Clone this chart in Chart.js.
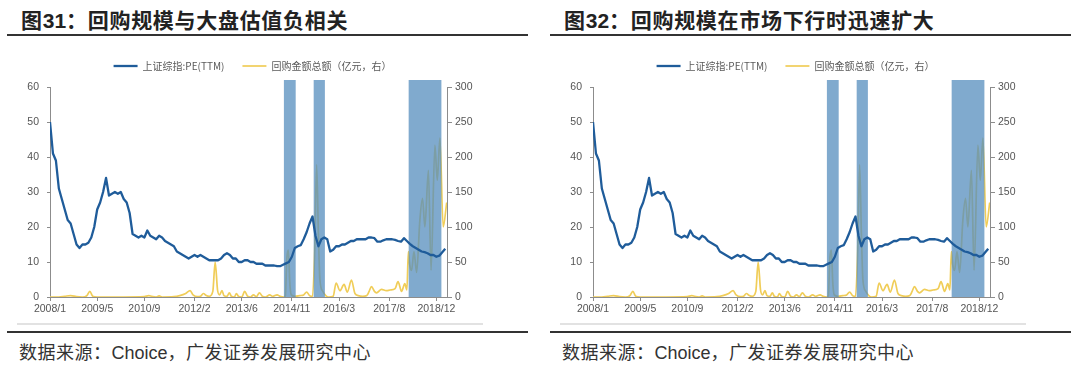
<!DOCTYPE html>
<html><head><meta charset="utf-8">
<script src="https://cdn.jsdelivr.net/npm/chart.js@4.4.1/dist/chart.umd.min.js"></script>
<style>
body{margin:0;width:1080px;height:372px;background:#fff;overflow:hidden;position:relative;font-family:"Noto Sans CJK SC",sans-serif;}
.panel{position:absolute;top:0;width:540px;height:372px;}
.title{position:absolute;left:21px;top:5px;font-size:21px;font-weight:bold;line-height:28px;color:#222;white-space:nowrap;letter-spacing:0.7px;}
.title .num{font-family:"Liberation Sans",Arial,sans-serif;letter-spacing:0;}
.rule{position:absolute;left:7px;width:521px;height:2px;background:#333;}
.light{position:absolute;left:17px;width:466px;top:323px;height:2px;background:#e2e2e2;}
.foot{position:absolute;left:19px;top:339px;font-size:18px;line-height:24px;color:#333;white-space:nowrap;letter-spacing:0.5px;}
.foot .lat{font-family:"Liberation Sans",Arial,sans-serif;letter-spacing:0;}
canvas{position:absolute;left:0;top:40px;}
</style></head>
<body>
<div class="panel" style="left:0">
  <div class="title">图<span class="num">31</span>：回购规模与大盘估值负相关</div>
  <div class="rule" style="top:34px"></div>
  <canvas id="c1" width="540" height="280"></canvas>
  <div class="light"></div>
  <div class="rule" style="top:331px"></div>
  <div class="foot">数据来源：<span class="lat">Choice</span>，广发证券发展研究中心</div>
</div>
<div class="panel" style="left:543px">
  <div class="title">图<span class="num">32</span>：回购规模在市场下行时迅速扩大</div>
  <div class="rule" style="top:34px"></div>
  <canvas id="c2" width="540" height="280"></canvas>
  <div class="light"></div>
  <div class="rule" style="top:331px"></div>
  <div class="foot">数据来源：<span class="lat">Choice</span>，广发证券发展研究中心</div>
</div>
<script>
// ---- data (x = months since 2008/1) ----
const seriesNames = ['上证综指:PE(TTM)', '回购金额总额（亿元，右）'];
const tickMonths = [0, 16, 32, 49, 65, 82, 98, 115, 131];
const tickLabels = ['2008/1', '2009/5', '2010/9', '2012/2', '2013/6', '2014/11', '2016/3', '2017/8', '2018/12'];
const peValues = [
  50, 41, 39, 31, 28, 25, 22, 21, 18, 15,
  14, 15, 15, 15.5, 17, 20, 25, 27, 30, 34,
  29, 29.5, 30, 29.5, 30, 28, 27, 24, 18, 17.5,
  17, 17.5, 17, 19, 17.5, 17, 16.5, 17.5, 17, 16,
  15.5, 15, 14.5, 13, 12.5, 12, 11.5, 11, 11.5, 12,
  11.5, 12, 11.5, 11, 10.5, 10.5, 10.5, 10.5, 11, 12,
  12.5, 12, 11, 11, 10, 10, 10.5, 10.5, 10, 10,
  9.5, 9.5, 9.5, 9, 9, 9, 9, 8.8, 8.8, 9.2,
  9.6, 10, 11.5, 14, 14.5, 14.8, 16.5, 18.5, 21, 23,
  17.5, 14.5, 16.5, 17, 16.5, 13, 13.5, 14.5, 14.5, 15,
  15, 15.5, 16, 16, 16.5, 16.5, 16.5, 16.5, 17, 17,
  16.8, 15.8, 15.8, 16.2, 16.5, 16.5, 16.5, 16.3, 16, 15.8,
  16.8, 16, 15.2, 14.5, 14, 13.5, 13, 12.8, 12.5, 12,
  12, 11.5, 11.8, 12.8, 13.8
];
const buybackMonths = [
  0, 3, 5, 7, 9, 11, 12.5, 13.5, 14.5, 16, 25, 32, 33.5, 34.5, 36, 37, 38, 42, 44, 46,
  47.5, 48.5, 50, 51, 52, 53, 54, 55.2, 56, 56.8, 57.5, 58.3, 59, 60, 60.8, 61.5, 62.5, 63.2, 64, 65,
  66, 67, 68, 69, 70, 71, 72, 73, 74.5, 75.5, 77, 78, 79.3, 79.8, 80.3, 80.8, 81.3, 81.8, 83, 84.7,
  86, 87, 88, 89, 89.7, 90.4, 91, 91.5, 92.5, 93.5, 94.5, 96, 97, 98.3, 99.7, 100.8, 102.2, 103.4, 104.5, 106,
  107.4, 108.2, 109, 110, 110.7, 112.4, 114, 115.3, 117, 118, 119.2, 120.3, 121, 121.5, 122, 122.6, 123.4, 124.3, 125.4, 126.3,
  127.1, 128.3, 129.2, 130.5, 131.3, 132.2, 133.3, 134.5
];
const buybackValues = [
  0, 0, 1, 2, 0.5, 0, 2, 8, 1, 0, 0, 0.5, 2, 1, 0, 1.5, 0, 0.5, 2, 5,
  9, 3, 0.5, 1, 5, 2, 1, 8, 50, 10, 3, 9, 2, 1, 6, 1, 0, 5, 0.5, 0,
  8, 1, 0, 3, 0.5, 6, 1, 0, 3, 1, 3, 1, 0, 2, 55, 67, 20, 3, 1, 2,
  3, 7, 2, 1, 60, 189, 90, 25, 8, 2, 0, 1, 20, 9, 18, 7, 24, 5, 2, 1,
  2, 8, 15, 8, 6, 11, 9, 10, 12, 22, 8, 19, 10, 65, 45, 38, 65, 35, 110, 141,
  100, 181, 38, 217, 167, 227, 100, 135
];
const shadeStart = [79.3, 89.4, 121.6];
const shadeEnd = [83.3, 93.2, 132.7];

Chart.defaults.font.family = '"Liberation Sans", Arial, sans-serif';

const shadePlugin = {
  id: 'shade',
  beforeDatasetDraw(chart, args) {
    if (args.index !== 0) return;
    const {ctx, chartArea, scales} = chart;
    ctx.save();
    ctx.fillStyle = 'rgba(86,141,190,0.75)';
    for (let i = 0; i < shadeStart.length; i++) {
      const x0 = scales.x.getPixelForValue(shadeStart[i]);
      const x1 = scales.x.getPixelForValue(shadeEnd[i]);
      ctx.fillRect(x0, chartArea.top - 7, x1 - x0, chartArea.bottom - chartArea.top + 7);
    }
    ctx.restore();
  }
};
const legendFit = {
  id: 'legendFit',
  beforeInit(chart) {
    const orig = chart.legend.fit;
    chart.legend.fit = function () { orig.call(this); this.height = 44; };
  }
};

function makeChart(id) {
  const axisColor = '#8c8c8c';
  const tickFont = {size: 10.5};
  new Chart(document.getElementById(id), {
    type: 'line',
    data: {
      datasets: [
        {
          label: seriesNames[0],
          data: peValues.map((v, i) => ({x: i, y: v})),
          borderColor: '#1f5c9a', backgroundColor: '#1f5c9a',
          borderWidth: 2.3, pointRadius: 0, tension: 0, yAxisID: 'y', borderJoinStyle: 'round'
        },
        {
          label: seriesNames[1],
          data: buybackMonths.map((m, i) => ({x: m, y: buybackValues[i]})),
          borderColor: '#f0cd58', backgroundColor: '#f0cd58',
          borderWidth: 1.7, pointRadius: 0, cubicInterpolationMode: 'monotone', yAxisID: 'y1'
        }
      ]
    },
    options: {
      responsive: false, animation: false,
      layout: {padding: {top: 3, right: 35, left: 0, bottom: 0}},
      plugins: {
        tooltip: {enabled: false},
        legend: {
          position: 'top',
          labels: {
            usePointStyle: true, pointStyle: 'line', pointStyleWidth: 24,
            padding: 18, color: '#5a5a5a',
            font: {family: '"Noto Sans CJK SC", sans-serif', size: 10}
          }
        }
      },
      scales: {
        x: {
          type: 'linear', min: 0, max: 134.6,
          afterBuildTicks: s => { s.ticks = tickMonths.map(v => ({value: v})); },
          afterFit: s => { s.height = 23; },
          ticks: {autoSkip: false, maxRotation: 0, padding: 2, color: '#555', font: tickFont,
                  callback: (v, i) => tickLabels[i]},
          grid: {display: true, drawOnChartArea: false, drawTicks: true, tickLength: 4, color: axisColor},
          border: {display: true, color: axisColor, width: 1}
        },
        y: {
          position: 'left', min: 0, max: 60,
          afterFit: s => { s.width = 50; },
          ticks: {stepSize: 10, padding: 8, color: '#555', font: tickFont},
          grid: {display: true, drawOnChartArea: false, drawTicks: true, tickLength: 3, color: axisColor},
          border: {display: true, color: axisColor, width: 1}
        },
        y1: {
          position: 'right', min: 0, max: 300,
          afterFit: s => { s.width = 58; },
          ticks: {stepSize: 50, padding: 3, color: '#555', font: tickFont},
          grid: {display: true, drawOnChartArea: false, drawTicks: true, tickLength: 5, color: axisColor},
          border: {display: true, color: axisColor, width: 1}
        }
      }
    },
    plugins: [shadePlugin, legendFit]
  });
}
makeChart('c1');
makeChart('c2');
</script>
</body></html>
